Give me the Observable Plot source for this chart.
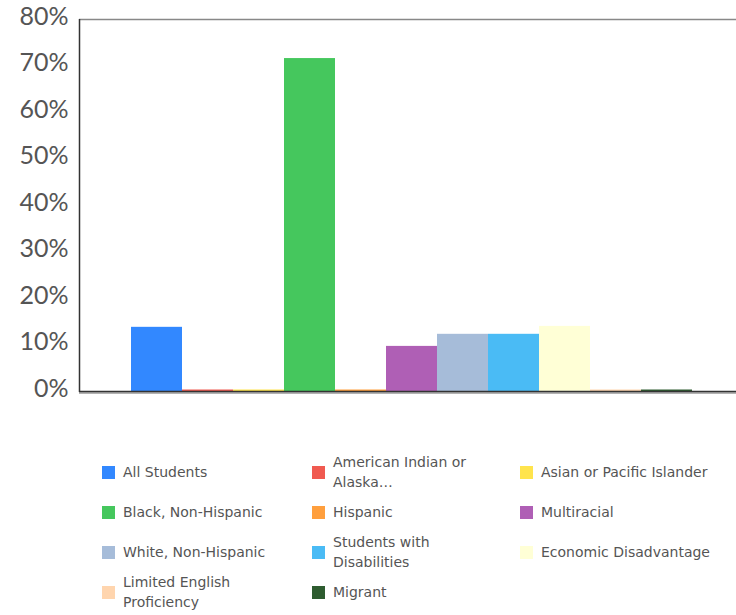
<!DOCTYPE html>
<html>
<head>
<meta charset="utf-8">
<script src="https://cdn.jsdelivr.net/npm/d3@7"></script>
<script src="https://cdn.jsdelivr.net/npm/@observablehq/plot@0.6"></script>
<style>
  html, body { margin: 0; padding: 0; background: #fff; }
  #wrap { width: 736px; overflow: hidden; }
  #legend {
    display: grid;
    grid-template-columns: 210px 208px auto;
    grid-auto-rows: 40px;
    padding-left: 102px;
    margin-top: 0px;
    font-family: "DejaVu Sans", sans-serif;
    font-size: 14px;
    color: #555;
  }
  .item { display: flex; align-items: center; }
  .sw { width: 13px; height: 13px; flex: none; margin-right: 8px; }
  .lab { white-space: pre-line; line-height: 20px; }
</style>
</head>
<body>
<div id="wrap"></div>
<script>
const categories = [
  "All Students",
  "American Indian or\nAlaska…",
  "Asian or Pacific Islander",
  "Black, Non-Hispanic",
  "Hispanic",
  "Multiracial",
  "White, Non-Hispanic",
  "Students with\nDisabilities",
  "Economic Disadvantage",
  "Limited English\nProficiency",
  "Migrant"
];
const values = [13.8, 0, 0, 71.6, 0, 9.7, 12.3, 12.3, 14.0, 0, 0];
const colors = ["#3288ff", "#f05a50", "#ffe44d", "#45c75d", "#ff9f3d", "#af5fb5", "#a6bcd9", "#4abbf5", "#ffffd6", "#ffd5ae", "#2e5c30"];
const yTicks = [0, 10, 20, 30, 40, 50, 60, 70, 80];

const data = categories.map((c, i) => ({category: c, value: values[i], color: colors[i]}));
const zeros = data.filter(d => d.value === 0);

const chart = Plot.plot({
  width: 736,
  height: 452,
  marginLeft: 79,
  marginRight: 0,
  marginTop: 19,
  marginBottom: 61,
  style: {fontFamily: "Lato, sans-serif", color: "#555", background: "#fff"},
  x: {domain: categories, range: [129, 693], padding: 0, axis: null},
  y: {domain: [0, 80], ticks: yTicks, tickFormat: d => d + "%", label: null, axis: null},
  marks: [
    Plot.ruleY([80], {stroke: "#888", strokeWidth: 1.5}),
    Plot.ruleY([0], {stroke: "#999", strokeWidth: 1.5, dy: 1.5}),
    Plot.barY(data, {x: "category", y: "value", fill: d => d.color}),
    Plot.tickY(zeros, {x: "category", y: "value", stroke: d => d.color, strokeWidth: 2, dy: -1}),
    Plot.ruleY([0], {stroke: "#333", strokeWidth: 1.5}),
    Plot.axisY({ticks: yTicks, tickFormat: d => d + "%", label: null, tickSize: 0, tickPadding: 11, fontSize: 25, fill: "#555", dy: -3}),
  ]
});
// left axis line at the plot's left edge, spanning the y scale
const ys = chart.scale("y");
d3.select(chart).append("line")
  .attr("x1", 79.5).attr("x2", 79.5)
  .attr("y1", ys.apply(80)).attr("y2", ys.apply(0) + 1)
  .attr("stroke", "#333").attr("stroke-width", 1.5);
document.getElementById("wrap").append(chart);

const legend = document.createElement("div");
legend.id = "legend";
data.forEach(d => {
  const it = document.createElement("div");
  it.className = "item";
  const sw = document.createElement("div");
  sw.className = "sw";
  sw.style.background = d.color;
  const lab = document.createElement("div");
  lab.className = "lab";
  lab.textContent = d.category;
  it.append(sw, lab);
  legend.append(it);
});
document.getElementById("wrap").append(legend);
</script>
</body>
</html>
